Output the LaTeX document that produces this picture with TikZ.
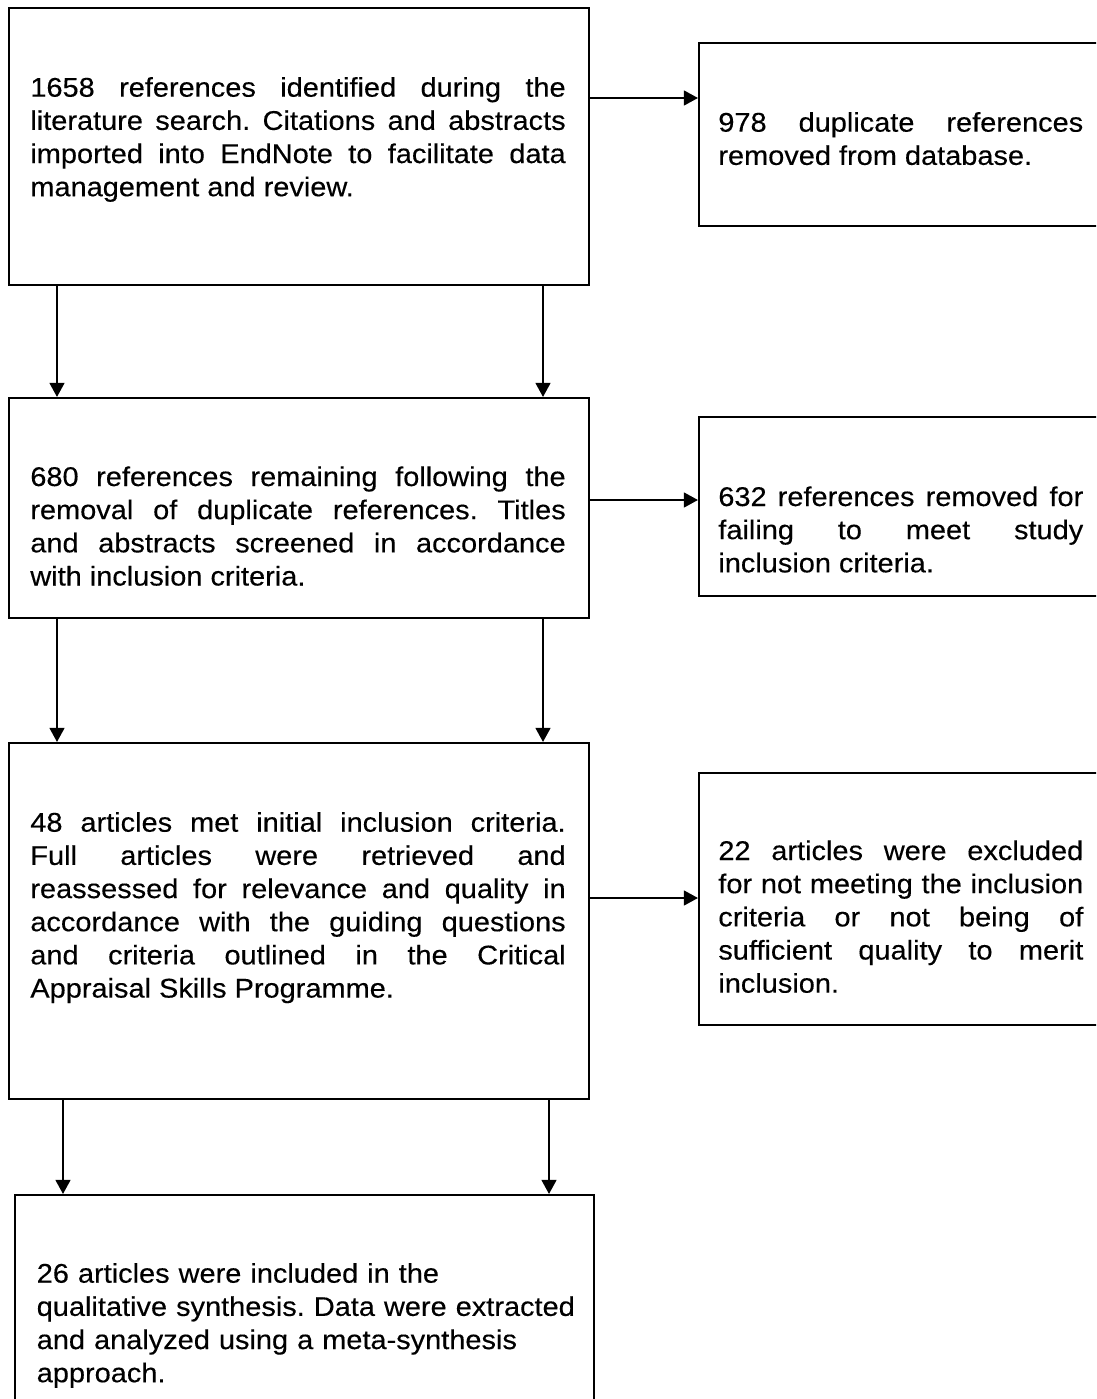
\documentclass[tikz,border=0pt]{standalone}
\usepackage{fontspec}
\setmainfont{Liberation Sans}[FakeStretch=1.07, FakeBold=0.3]
\usetikzlibrary{arrows.meta,fit}
\frenchspacing

\begin{document}
\begin{tikzpicture}[x=0.02cm, y=-0.02cm,
	box/.style={draw, line width=1.2pt, inner sep=0pt},
	txt/.style={anchor=base west, inner sep=0pt, align=justify, font=\fontsize{15.4}{18.88}\selectfont},
	arr/.style={line width=0.9pt, -{Triangle[length=8pt, width=8.5pt]}}]
	\useasboundingbox (0,0) rectangle (1096,1399);
	\clip (0,0) rectangle (1096,1399);
	\coordinate (L1) at (57,0); \coordinate (R1) at (543,0);
	\coordinate (L2) at (63,0); \coordinate (R2) at (549,0);
	\coordinate (H1) at (0,98); \coordinate (H2) at (0,500); \coordinate (H3) at (0,898);
	% left column
	\node[box, fit={(9,8) (589,285)}] (A) {};
	\node[box, fit={(9,398) (589,618)}] (C) {};
	\node[box, fit={(9,743) (589,1099)}] (E) {};
	\node[box, fit={(15,1195) (594,1430)}] (G) {};
	% right column
	\node[box, fit={(699,43) (1104,226)}] (B) {};
	\node[box, fit={(699,417) (1104,596)}] (D) {};
	\node[box, fit={(699,773) (1104,1025)}] (F) {};
	\node[txt, text width=10.71cm] (tA) at (30,96.7) {1658 references identified during the\linebreak literature search. Citations and abstracts\linebreak imported into EndNote to facilitate data\linebreak management and review.};
	\node[txt, text width=7.3cm] (tB) at (718,131.7) {978 duplicate references\linebreak removed from database.};
	\node[txt, text width=10.71cm] (tC) at (30,486) {680 references remaining following the\linebreak removal of duplicate references. Titles\linebreak and abstracts screened in accordance\linebreak with inclusion criteria.};
	\node[txt, text width=7.3cm] (tD) at (718,506) {632 references removed for\linebreak failing to meet study\linebreak inclusion criteria.};
	\node[txt, text width=10.71cm] (tE) at (30,831.7) {48 articles met initial inclusion criteria.\linebreak Full articles were retrieved and\linebreak reassessed for relevance and quality in\linebreak accordance with the guiding questions\linebreak and criteria outlined in the Critical\linebreak Appraisal Skills Programme.};
	\node[txt, text width=7.3cm] (tF) at (718,860) {22 articles were excluded\linebreak for not meeting the inclusion\linebreak criteria or not being of\linebreak sufficient quality to merit\linebreak inclusion.};
	\node[txt, text width=11cm, align=left] (tG) at (36.4,1282.7) {26 articles were included in the\\ qualitative synthesis. Data were extracted\\ and analyzed using a meta-synthesis\\ approach.};
	\foreach \u/\v/\p in {A/C/L1, A/C/R1, C/E/L1, C/E/R1, E/G/L2, E/G/R2}
		\draw[arr] (\u.south -| \p) -- (\v.north -| \p);
	\foreach \u/\v/\p in {A/B/H1, C/D/H2, E/F/H3}
		\draw[arr] (\u.east |- \p) -- (\v.west |- \p);
\end{tikzpicture}
\end{document}
